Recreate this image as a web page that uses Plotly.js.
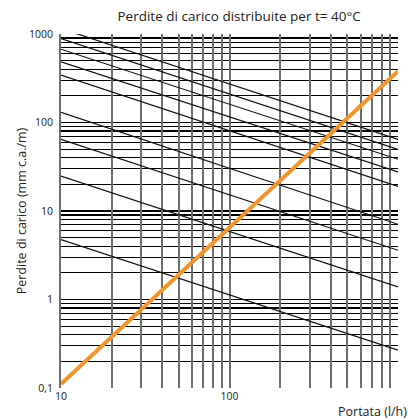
<!DOCTYPE html>
<html>
<head>
<meta charset="utf-8">
<script src="https://cdn.plot.ly/plotly-3.0.1.min.js"></script>
<style>html,body{margin:0;padding:0;background:#fff;}#chart{width:408px;height:420px;}</style>
</head>
<body>
<div id="chart"></div>
<script>
// Flow range (l/h) at chart ends
const flowEnds = [10, 1000];
// Descending black curves: pressure loss at 10 l/h and at 1000 l/h (mm c.a./m)
const curveStart = [1153, 889, 673, 485, 343, 130, 64.4, 24.8, 4.75];
const curveEnd   = [64.4, 49.7, 38.4, 27.6, 19.0, 7.08, 3.60, 1.39, 0.268];
// Orange line: pressure loss at 10 and 1000 l/h
const orangeVals = [0.111, 380];
// Axis ticks
const xGridVals = [10,20,30,40,50,60,70,80,90,100,200,300,400,500,600,700,800,900];
const xLabelVals = [10, 100, 1000];
const xLabelText = ['10', '100', '1000'];
const yGridVals = [0.1,0.2,0.3,0.4,0.5,0.6,0.7,0.8,0.9,1,2,3,4,5,6,7,8,9,10,20,30,40,50,60,70,80,90,100,200,300,400,500,600,700,800,900,1000];
const yLabelText = yGridVals.map(v => v === 0.1 ? '0,1' : ([1,10,100,1000].includes(v) ? String(v) : ''));

const traces = [];
curveStart.forEach((s, i) => {
  traces.push({
    x: flowEnds, y: [s, curveEnd[i]], type: 'scatter', mode: 'lines',
    line: {color: '#111', width: 1.2}, hoverinfo: 'skip', showlegend: false
  });
});
traces.push({
  x: flowEnds, y: orangeVals, type: 'scatter', mode: 'lines',
  line: {color: '#F0962E', width: 4}, showlegend: false
});
// invisible trace to anchor grid axis
traces.push({x: flowEnds, y: orangeVals, xaxis: 'x2', type: 'scatter', mode: 'lines',
  line: {width: 0}, opacity: 0, hoverinfo: 'skip', showlegend: false});

const font = 'Open Sans, Noto Sans, sans-serif';
const layout = {
  width: 408, height: 420,
  margin: {l: 61, r: 10, t: 34, b: 32},
  paper_bgcolor: '#fff', plot_bgcolor: '#fff',
  font: {family: font, color: '#222', size: 10},
  title: {text: 'Perdite di carico distribuite per t= 40°C', font: {size: 13.5, color: '#222', family: font},
    xref: 'container', x: 0.586, xanchor: 'center', yref: 'container', y: 0.962, yanchor: 'middle'},
  xaxis: {
    type: 'log', range: [1, 3], tickmode: 'array', tickvals: xLabelVals, ticktext: xLabelText,
    showgrid: false, zeroline: false, showline: false, ticks: '', tickfont: {size: 10.5, color: '#222'}
  },
  xaxis2: {
    type: 'log', range: [1, 3], overlaying: 'x', tickmode: 'array', tickvals: xGridVals,
    showticklabels: false, showgrid: true, gridcolor: '#6e6e6e', gridwidth: 2, zeroline: false, showline: false, ticks: ''
  },
  yaxis: {
    type: 'log', range: [-1, 3], tickmode: 'array', tickvals: yGridVals, ticktext: yLabelText,
    showgrid: true, gridcolor: '#000', gridwidth: 1.2, zeroline: false,
    showline: true, linecolor: '#6e6e6e', linewidth: 2, ticks: '',
    tickfont: {size: 10.5, color: '#222'}, ticklabelstandoff: 4,
    title: {text: 'Perdite di carico (mm c.a./m)', font: {size: 12.5, color: '#222'}, standoff: 0}
  },
  annotations: [{
    text: 'Portata (l/h)', xref: 'paper', yref: 'paper', x: 0.815, y: -0.066,
    xanchor: 'left', yanchor: 'middle', showarrow: false, font: {size: 12.5, color: '#222', family: font}
  }]
};
Plotly.newPlot('chart', traces, layout, {displayModeBar: false, staticPlot: true});
</script>
</body>
</html>
